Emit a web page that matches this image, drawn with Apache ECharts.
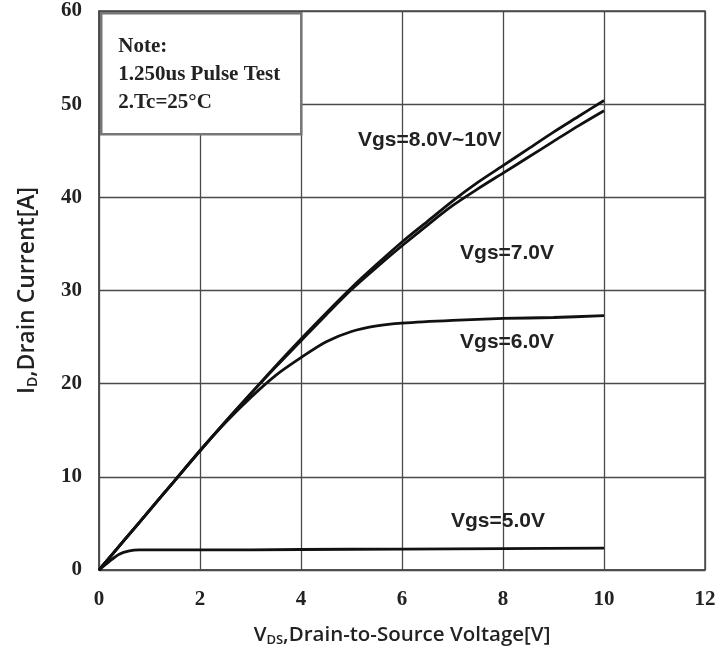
<!DOCTYPE html>
<html><head><meta charset="utf-8">
<script src="https://cdn.jsdelivr.net/npm/echarts@6/dist/echarts.min.js"></script>
<style>html,body{margin:0;padding:0;background:#fff}#c{width:720px;height:655px}</style>
</head><body><div id="c"></div>
<script>
// Data
const x810 = [0,0.5,1,1.5,2,2.5,3,3.5,4,4.5,5,5.5,6,6.5,7,7.5,8,8.5,9,9.5,10];
const y810 = [0,3.2,6.4,9.6,12.8,15.9,18.9,21.9,24.8,27.6,30.3,32.8,35.2,37.4,39.6,41.6,43.4,45.2,47.0,48.7,50.4];
const x7 = [0,0.5,1,1.5,2,2.5,3,3.5,4,4.5,5,5.5,6,6.5,7,7.5,8,8.5,9,9.5,10];
const y7 = [0,3.2,6.4,9.6,12.8,15.9,18.9,21.8,24.6,27.4,30.1,32.5,34.8,37.0,39.1,40.9,42.6,44.3,46.0,47.7,49.3];
const x6 = [0,0.5,1,1.5,2,2.5,3,3.5,4,4.5,5,5.5,6,7,8,9,10];
const y6 = [0,3.2,6.4,9.6,12.8,15.8,18.5,20.9,22.8,24.5,25.6,26.2,26.5,26.8,27.0,27.1,27.3];
const x5 = [0,0.2,0.4,0.6,0.8,1,2,4,6,8,10];
const y5 = [0,0.9,1.7,2.05,2.15,2.15,2.15,2.2,2.25,2.3,2.35];
const seriesLabels = ['Vgs=8.0V~10V','Vgs=7.0V','Vgs=6.0V','Vgs=5.0V'];
const labelPos = [[6.55,46.1],[8.08,34.0],[8.08,24.5],[7.9,5.2]];
const xTicks = {min:0, max:12, interval:2};
const yTicks = {min:0, max:60, interval:10};
const noteLines = ['Note:','1.250us Pulse Test','2.Tc=25\u00B0C'];

const zip = (xs, ys) => xs.map((x,i)=>[x, ys[i]]);
const curves = [zip(x810,y810), zip(x7,y7), zip(x6,y6), zip(x5,y5)];

const chart = echarts.init(document.getElementById('c'), null, {renderer:'canvas'});
const gridColor = '#4a4a4a';
const option = {
  backgroundColor:'#fff',
  animation:false,
  grid:{left:99, right:15, top:11, bottom:85, show:true, borderColor:gridColor, borderWidth:1.5},
  xAxis:{type:'value', min:xTicks.min, max:xTicks.max, interval:xTicks.interval,
    axisLine:{lineStyle:{color:gridColor, width:1.5}}, axisTick:{show:false},
    splitLine:{show:true, lineStyle:{color:gridColor, width:1.3}},
    axisLabel:{fontFamily:'Liberation Serif', fontWeight:'bold', fontSize:21, color:'#222', margin:19},
    name:'{n|V}{s|DS}{n|,Drain-to-Source Voltage[V]}', nameLocation:'middle', nameGap:53,
    nameTextStyle:{rich:{n:{fontFamily:'Open Sans', fontWeight:600, fontSize:20.5, color:'#222'},
                         s:{fontFamily:'Open Sans', fontWeight:600, fontSize:13, color:'#222', padding:[11,0,0,0]}}}
  },
  yAxis:{type:'value', min:yTicks.min, max:yTicks.max, interval:yTicks.interval,
    axisLine:{lineStyle:{color:gridColor, width:1.5}}, axisTick:{show:false},
    splitLine:{show:true, lineStyle:{color:gridColor, width:1.3}},
    axisLabel:{fontFamily:'Liberation Serif', fontWeight:'bold', fontSize:21, color:'#222', margin:17},
    name:'{n|I}{s|D}{n|,Drain Current[A]}', nameLocation:'middle', nameGap:59, nameRotate:90,
    nameTextStyle:{rich:{n:{fontFamily:'Open Sans', fontWeight:600, fontSize:23, color:'#222'},
                         s:{fontFamily:'Open Sans', fontWeight:600, fontSize:14, color:'#222', padding:[12,0,0,0]}}}
  },
  series: curves.map((d,i)=>({
    type:'line', data:d, smooth:0.3, showSymbol:false, symbol:'none',
    lineStyle:{color:'#111', width:2.8},
    markPoint:{symbol:'circle', symbolSize:0, silent:true,
      data:[{coord:labelPos[i], label:{show:true, formatter:seriesLabels[i], position:'inside',
        fontFamily:'Liberation Sans', fontWeight:'bold', fontSize:21, color:'#222'}}]}
  })),
  graphic:[{
    type:'group', left:100, top:12, z:100,
    children:[
      {type:'rect', z:100, shape:{x:0,y:0,width:200,height:121}, style:{fill:'#fff', stroke:'#777', lineWidth:2.5}},
      ...noteLines.map((t,i)=>({type:'text', z:101, x:17, y:33+i*28,
        style:{text:t, font:'bold 21px "Liberation Serif"', fill:'#222', textVerticalAlign:'middle'}}))
    ]
  }]
};
chart.setOption(option);
</script></body></html>
